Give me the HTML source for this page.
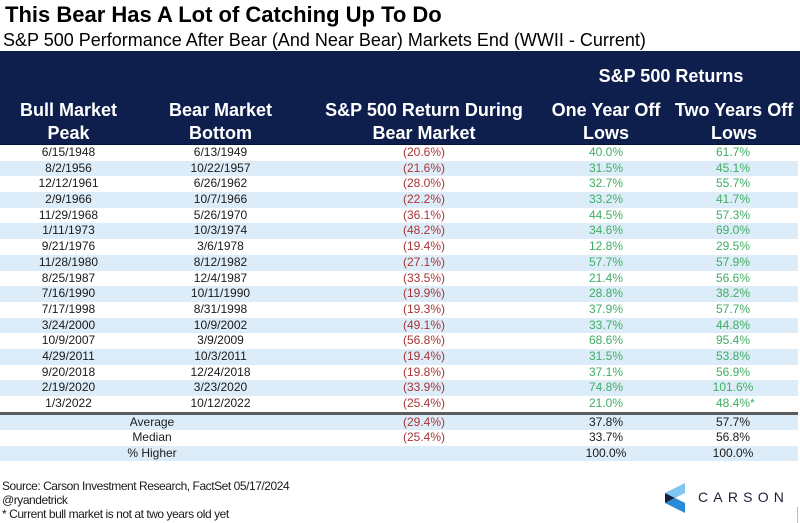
<!DOCTYPE html>
<html>
<head>
<meta charset="utf-8">
<style>
  html, body { margin:0; padding:0; }
  body { width:800px; height:523px; position:relative; overflow:hidden; background:#fff;
         font-family:"Liberation Sans", Arial, sans-serif; color:#1a1a1a; }
  .abs { position:absolute; white-space:nowrap; }
  .title { left:5px; top:4.4px; font-size:22px; line-height:22px; font-weight:bold; color:#000; }
  .sub { left:3px; top:30.5px; font-size:18px; line-height:18px; color:#000; }
  .hdr { position:absolute; left:0; top:51px; width:800px; height:92.5px; background:#0f1f4d;
         border-bottom:1.5px solid #061233; }
  .ht { position:absolute; color:#fff; font-weight:bold; font-size:18px; line-height:23px; text-align:center; white-space:nowrap; }
  .rows { position:absolute; left:0; top:145px; width:798px; }
  .r { display:flex; height:15.7px; }
  .s { height:15.5px; }
  .b { background:#dcedf9; }
  .r div { text-align:center; font-size:12px; line-height:15.7px; white-space:nowrap; }
  .s div { line-height:15.5px; }
  .c1 { width:137px; } .c2 { width:167px; } .c3 { width:240px; } .c4 { width:124px; } .c5 { width:130px; }
  .c12 { width:304px; }
  .red { color:#a93535; }
  .grn { color:#3fae62; }
  .blk { color:#1a1a1a; }
  .sep { height:3px; background:#5c5c5c; }
  .foot { left:2px; font-size:12px; line-height:14px; letter-spacing:-0.45px; color:#1a1a1a; }
</style>
</head>
<body>
<div class="abs title">This Bear Has A Lot of Catching Up To Do</div>
<div class="abs sub">S&amp;P 500 Performance After Bear (And Near Bear) Markets End (WWII - Current)</div>

<div class="hdr"></div>
<div class="ht" style="left:544px; width:254px; top:66.5px; line-height:18px;">S&amp;P 500 Returns</div>
<div class="ht" style="left:0; width:137px; top:99.3px;">Bull Market<br>Peak</div>
<div class="ht" style="left:137px; width:167px; top:99.3px;">Bear Market<br>Bottom</div>
<div class="ht" style="left:304px; width:240px; top:99.3px;">S&amp;P 500 Return During<br>Bear Market</div>
<div class="ht" style="left:544px; width:124px; top:99.3px;">One Year Off<br>Lows</div>
<div class="ht" style="left:668px; width:132px; top:99.3px;">Two Years Off<br>Lows</div>

<div class="rows">
  <div class="r"><div class="c1">6/15/1948</div><div class="c2">6/13/1949</div><div class="c3 red">(20.6%)</div><div class="c4 grn">40.0%</div><div class="c5 grn">61.7%</div></div>
  <div class="r b"><div class="c1">8/2/1956</div><div class="c2">10/22/1957</div><div class="c3 red">(21.6%)</div><div class="c4 grn">31.5%</div><div class="c5 grn">45.1%</div></div>
  <div class="r"><div class="c1">12/12/1961</div><div class="c2">6/26/1962</div><div class="c3 red">(28.0%)</div><div class="c4 grn">32.7%</div><div class="c5 grn">55.7%</div></div>
  <div class="r b"><div class="c1">2/9/1966</div><div class="c2">10/7/1966</div><div class="c3 red">(22.2%)</div><div class="c4 grn">33.2%</div><div class="c5 grn">41.7%</div></div>
  <div class="r"><div class="c1">11/29/1968</div><div class="c2">5/26/1970</div><div class="c3 red">(36.1%)</div><div class="c4 grn">44.5%</div><div class="c5 grn">57.3%</div></div>
  <div class="r b"><div class="c1">1/11/1973</div><div class="c2">10/3/1974</div><div class="c3 red">(48.2%)</div><div class="c4 grn">34.6%</div><div class="c5 grn">69.0%</div></div>
  <div class="r"><div class="c1">9/21/1976</div><div class="c2">3/6/1978</div><div class="c3 red">(19.4%)</div><div class="c4 grn">12.8%</div><div class="c5 grn">29.5%</div></div>
  <div class="r b"><div class="c1">11/28/1980</div><div class="c2">8/12/1982</div><div class="c3 red">(27.1%)</div><div class="c4 grn">57.7%</div><div class="c5 grn">57.9%</div></div>
  <div class="r"><div class="c1">8/25/1987</div><div class="c2">12/4/1987</div><div class="c3 red">(33.5%)</div><div class="c4 grn">21.4%</div><div class="c5 grn">56.6%</div></div>
  <div class="r b"><div class="c1">7/16/1990</div><div class="c2">10/11/1990</div><div class="c3 red">(19.9%)</div><div class="c4 grn">28.8%</div><div class="c5 grn">38.2%</div></div>
  <div class="r"><div class="c1">7/17/1998</div><div class="c2">8/31/1998</div><div class="c3 red">(19.3%)</div><div class="c4 grn">37.9%</div><div class="c5 grn">57.7%</div></div>
  <div class="r b"><div class="c1">3/24/2000</div><div class="c2">10/9/2002</div><div class="c3 red">(49.1%)</div><div class="c4 grn">33.7%</div><div class="c5 grn">44.8%</div></div>
  <div class="r"><div class="c1">10/9/2007</div><div class="c2">3/9/2009</div><div class="c3 red">(56.8%)</div><div class="c4 grn">68.6%</div><div class="c5 grn">95.4%</div></div>
  <div class="r b"><div class="c1">4/29/2011</div><div class="c2">10/3/2011</div><div class="c3 red">(19.4%)</div><div class="c4 grn">31.5%</div><div class="c5 grn">53.8%</div></div>
  <div class="r"><div class="c1">9/20/2018</div><div class="c2">12/24/2018</div><div class="c3 red">(19.8%)</div><div class="c4 grn">37.1%</div><div class="c5 grn">56.9%</div></div>
  <div class="r b"><div class="c1">2/19/2020</div><div class="c2">3/23/2020</div><div class="c3 red">(33.9%)</div><div class="c4 grn">74.8%</div><div class="c5 grn">101.6%</div></div>
  <div class="r"><div class="c1">1/3/2022</div><div class="c2">10/12/2022</div><div class="c3 red">(25.4%)</div><div class="c4 grn">21.0%</div><div class="c5 grn"><span style="position:relative;">48.4%<span style="position:absolute; left:100%; top:0;">*</span></span></div></div>
  <div class="sep"></div>
  <div class="r s b"><div class="c12">Average</div><div class="c3 red">(29.4%)</div><div class="c4 blk">37.8%</div><div class="c5 blk">57.7%</div></div>
  <div class="r s"><div class="c12">Median</div><div class="c3 red">(25.4%)</div><div class="c4 blk">33.7%</div><div class="c5 blk">56.8%</div></div>
  <div class="r s b"><div class="c12">% Higher</div><div class="c3"></div><div class="c4 blk">100.0%</div><div class="c5 blk">100.0%</div></div>
</div>

<div class="abs foot" style="top:479.3px;">Source: Carson Investment Research, FactSet 05/17/2024</div>
<div class="abs foot" style="top:493.3px;">@ryandetrick</div>
<div class="abs foot" style="top:507.3px;">* Current bull market is not at two years old yet</div>

<svg class="abs" style="left:0; top:0;" width="800" height="523" viewBox="0 0 800 523">
  <polygon points="665,493 685,483 685,493 675,498" fill="#7fc7f1"/>
  <polygon points="665,493 675,498 665,503" fill="#15223f"/>
  <polygon points="665,503 675,498 685,503 685,513" fill="#2b8ad8"/>
  <line x1="797.5" y1="507" x2="797.5" y2="523" stroke="#bbbbbb" stroke-width="1"/>
</svg>
<div class="abs" style="left:698px; top:490px; font-size:14px; line-height:14px; letter-spacing:5.2px; color:#1c2238;">CARSON</div>
</body>
</html>
